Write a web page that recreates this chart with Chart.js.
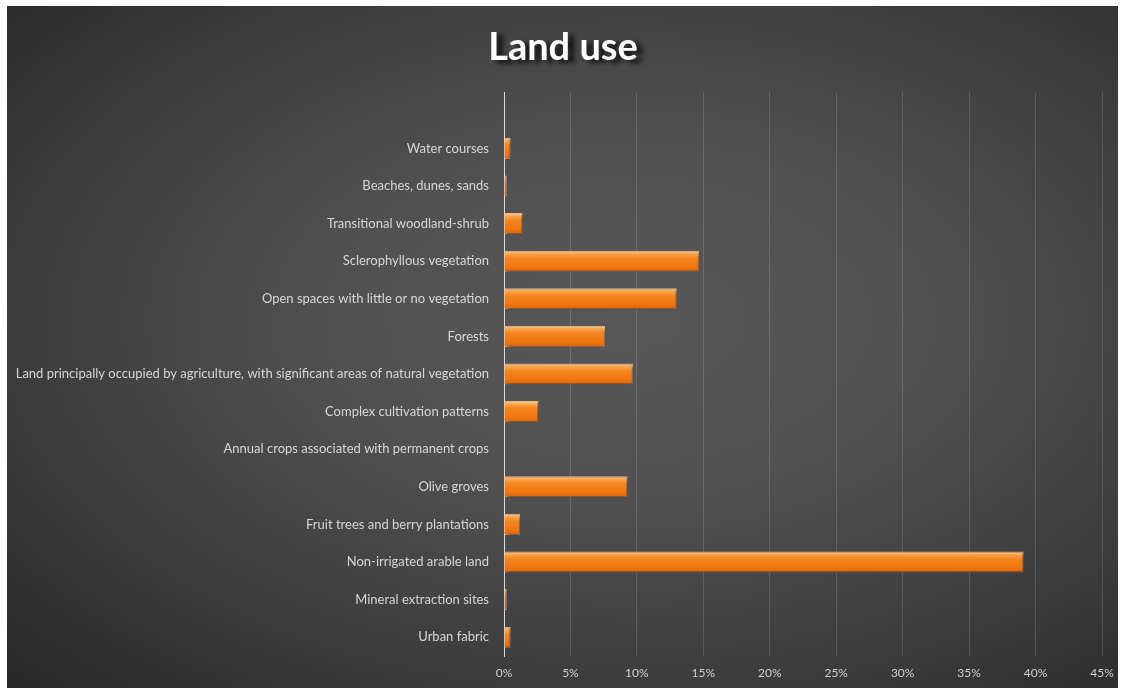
<!DOCTYPE html>
<html>
<head>
<meta charset="utf-8">
<script src="https://cdn.jsdelivr.net/npm/chart.js@4.4.1/dist/chart.umd.min.js"></script>
<style>
    html, body { margin: 0; padding: 0; background: #ffffff; }
    #wrap {
        position: absolute;
        left: 7px; top: 6px;
        width: 1111px; height: 682px;
        background: radial-gradient(ellipse farthest-corner at 56% 46%, #585858 0%, #505050 35%, #3c3c3c 70%, #272727 100%);
    }
</style>
</head>
<body>
<div id="wrap"><canvas id="landChart" width="1111" height="682"></canvas></div>
<script>
const chartTitle = "Land use";

// top row of the original chart is an empty category
const categories = [
    "",
    "Water courses",
    "Beaches, dunes, sands",
    "Transitional woodland-shrub",
    "Sclerophyllous vegetation",
    "Open spaces with little or no vegetation",
    "Forests",
    "Land principally occupied by agriculture, with significant areas of natural vegetation",
    "Complex cultivation patterns",
    "Annual crops associated with permanent crops",
    "Olive groves",
    "Fruit trees and berry plantations",
    "Non-irrigated arable land",
    "Mineral extraction sites",
    "Urban fabric"
];

const shares = [null, 0.5, 0.2, 1.4, 14.7, 13.0, 7.6, 9.7, 2.6, 0.05, 9.3, 1.2, 39.1, 0.2, 0.5];

const xTicks = [0, 5, 10, 15, 20, 25, 30, 35, 40, 45];

const BAR_PCT = 0.56;

function barGradient(context) {
    const chart = context.chart;
    const yScale = chart.scales.y;
    if (!chart.chartArea || !yScale) return "#f07b12";
    const center = yScale.getPixelForValue(context.dataIndex);
    const band = (yScale.bottom - yScale.top) / categories.length;
    const half = band * BAR_PCT / 2;
    const g = chart.ctx.createLinearGradient(0, center - half, 0, center + half);
    g.addColorStop(0, "#fcd2a4");
    g.addColorStop(0.14, "#f9a550");
    g.addColorStop(0.35, "#f4861f");
    g.addColorStop(0.75, "#f0760f");
    g.addColorStop(1, "#da650a");
    return g;
}

const barShadow = {
    id: "barShadow",
    beforeDatasetsDraw(chart) {
        const ctx = chart.ctx;
        ctx.save();
        ctx.shadowColor = "rgba(0,0,0,0.55)";
        ctx.shadowBlur = 4;
        ctx.shadowOffsetX = 2;
        ctx.shadowOffsetY = 3;
    },
    afterDatasetsDraw(chart) {
        chart.ctx.restore();
    }
};

const shadowTitle = {
    id: "shadowTitle",
    afterDraw(chart) {
        const ctx = chart.ctx;
        ctx.save();
        ctx.font = "bold 38px Lato";
        ctx.textAlign = "center";
        ctx.textBaseline = "alphabetic";
        ctx.shadowColor = "rgba(0,0,0,0.8)";
        ctx.shadowBlur = 5;
        ctx.shadowOffsetX = 6;
        ctx.shadowOffsetY = 3;
        ctx.fillStyle = "#ffffff";
        ctx.fillText(chartTitle, 556, 54);
        ctx.restore();
    }
};

const ctx = document.getElementById("landChart").getContext("2d");
new Chart(ctx, {
    type: "bar",
    data: {
        labels: categories,
        datasets: [{
            label: "Land use",
            data: shares,
            backgroundColor: barGradient,
            borderColor: "rgba(250,200,150,0.9)",
            borderWidth: 1,
            borderSkipped: "start",
            barPercentage: BAR_PCT,
            categoryPercentage: 1
        }]
    },
    options: {
        indexAxis: "y",
        responsive: false,
        animation: false,
        layout: {
            padding: { top: 86, right: 16, left: 0, bottom: 0 }
        },
        plugins: {
            legend: { display: false },
            title: { display: false },
            tooltip: { enabled: false }
        },
        scales: {
            x: {
                min: 0,
                max: 45,
                afterBuildTicks: function (scale) {
                    scale.ticks = xTicks.map(v => ({ value: v }));
                },
                afterFit: function (scale) {
                    scale.height = 32;
                    scale.paddingRight = 0;
                    scale.paddingLeft = 0;
                },
                grid: {
                    color: "rgba(255,255,255,0.14)",
                    lineWidth: 1,
                    drawTicks: false
                },
                border: { display: false },
                ticks: {
                    color: "#cfcfcf",
                    padding: 10,
                    font: { family: "Lato", size: 12 },
                    callback: v => v + "%"
                }
            },
            y: {
                afterFit: function (scale) {
                    scale.width = 497;
                },
                grid: { display: false, drawTicks: false },
                border: { display: true, color: "#dadada", width: 1 },
                ticks: {
                    color: "#d6d6d6",
                    padding: 15,
                    autoSkip: false,
                    font: { family: "Lato", size: 13 }
                }
            }
        }
    },
    plugins: [barShadow, shadowTitle]
});
</script>
</body>
</html>
